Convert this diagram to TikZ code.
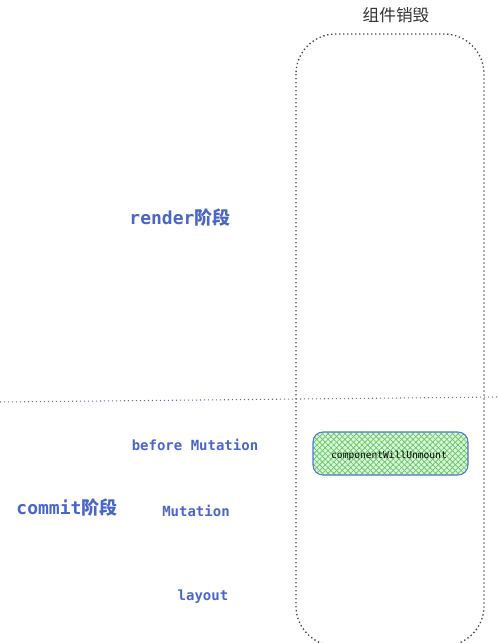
\documentclass[tikz,border=0pt]{standalone}
\usepackage{fontspec}
\setmonofont{DejaVu Sans Mono}
\newfontfamily\cjk{Noto Sans CJK SC}
\usetikzlibrary{patterns.meta}
\definecolor{txtblue}{HTML}{4A66C8}
\definecolor{linegray}{HTML}{444444}
\definecolor{sepblue}{HTML}{6070B8}
\definecolor{hatchgreen}{HTML}{5CC85C}
\definecolor{fillgreen}{HTML}{DDF3DD}
\definecolor{boxblue}{HTML}{5577CC}
\tikzset{
  phase/.style={text=txtblue, font=\ttfamily\bfseries\fontsize{13.5}{16}\selectfont, inner sep=0pt},
  sub/.style={text=txtblue, font=\ttfamily\bfseries\fontsize{10.5}{12}\selectfont, inner sep=0pt},
  title/.style={text=black!80, font=\cjk\fontsize{12.5}{15}\selectfont, inner sep=0pt},
  lane/.style={draw=linegray, line width=1pt, dash pattern=on 1pt off 2pt, rounded corners=30pt},
}
\begin{document}
\begin{tikzpicture}[x=0.75pt,y=-0.75pt]
\useasboundingbox (0,0) rectangle (499,643);
% lane
\draw[lane] (296,34) rectangle (484,646);
\node[title] (t) at (396,15) {组件销毁};
% separator
\coordinate (sl) at (0,402);
\coordinate (sr) at (499,397);
\draw[sepblue, line width=0.8pt, dash pattern=on 0.8pt off 2.2pt] (sl) -- (sr);
% phases
\node[phase] (render) at (180,218) {render{\cjk 阶段}};
\node[phase] (commit) at (67,508) {commit{\cjk 阶段}};
\node[sub] (before) at (195,445) {before Mutation};
\node[sub] (mut) at (196,511) {Mutation};
\node[sub] (layout) at (203,597) {layout};
% component box
\fill[fillgreen, rounded corners=7.5pt] (313,432) rectangle (468,475);
\fill[pattern={Lines[angle=45,distance=3pt,line width=0.5pt]}, pattern color=hatchgreen, rounded corners=7.5pt] (313,432) rectangle (468,475);
\fill[pattern={Lines[angle=-45,distance=3pt,line width=0.5pt]}, pattern color=hatchgreen, rounded corners=7.5pt] (313,432) rectangle (468,475);
\draw[boxblue, line width=0.8pt, rounded corners=7.5pt] (313,432) rectangle (468,475);
\node[text=black, font=\ttfamily\fontsize{7.2}{9}\selectfont, inner sep=0pt] (cwu) at (389,456) {componentWillUnmount};
\end{tikzpicture}
\end{document}
